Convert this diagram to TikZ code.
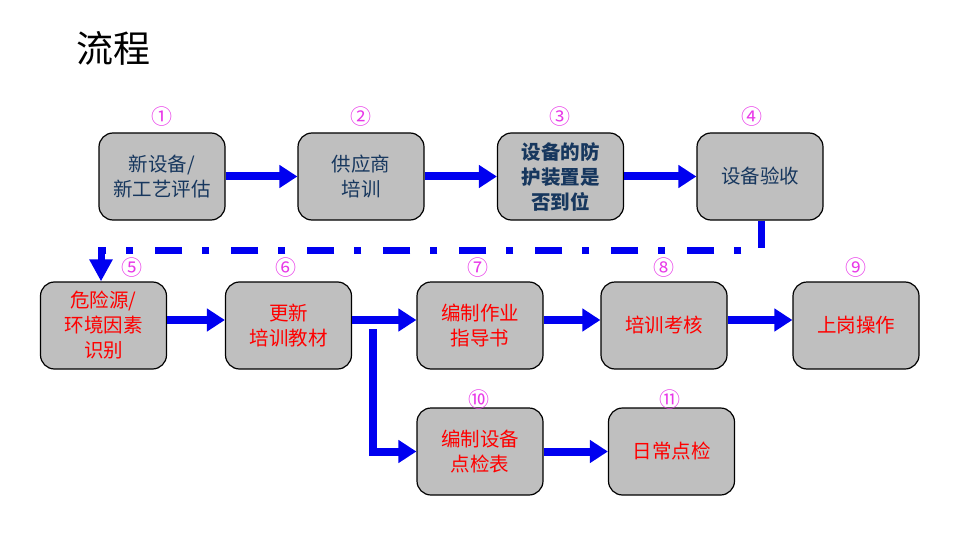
\documentclass[tikz,border=0pt]{standalone}
\usepackage{fontspec}
\setmainfont{Noto Sans CJK SC}
\usetikzlibrary{arrows.meta,positioning}
\definecolor{boxgray}{HTML}{BFBFBF}
\definecolor{toptext}{HTML}{17375E}
\definecolor{numcol}{HTML}{E838E8}
\definecolor{flowblue}{HTML}{0000F0}
\tikzset{
  stepbox/.style={draw=black, line width=1.2pt, fill=boxgray, rounded corners=14pt,
    minimum width=126pt, minimum height=87pt, align=center, inner sep=2pt,
    font=\fontsize{19.5pt}{25pt}\selectfont},
  toprow/.style={stepbox, text=toptext},
  redrow/.style={stepbox, text=red},
  numlbl/.style={text=numcol, font=\fontsize{21pt}{22pt}\selectfont, inner sep=0pt},
  flow/.style={draw=flowblue, line width=8pt, -{Triangle[length=18pt,width=22pt]}},
  flowline/.style={draw=flowblue, line width=8pt},
  dashflow/.style={draw=flowblue, line width=7pt, dash pattern=on 27pt off 22pt on 7pt off 20pt,
    -{Triangle[length=22pt,width=22pt]}}
}
\begin{document}
\begin{tikzpicture}[x=1pt,y=-1pt]
\useasboundingbox (0,0) rectangle (960,540);
\node[font=\fontsize{37pt}{42pt}\selectfont, anchor=west, inner sep=0pt] (title) at (76,48) {流程};

\node[toprow] (b1) at (162,176.5) {新设备/\\新工艺评估};
\node[toprow] (b2) at (361,176.5) {供应商\\培训};
\node[toprow, font=\fontsize{19.5pt}{25pt}\selectfont\bfseries] (b3) at (560.5,176.5) {设备的防\\护装置是\\否到位};
\node[toprow] (b4) at (760,176.5) {设备验收};

\node[redrow] (b5) at (103.5,325.5) {危险源/\\环境因素\\识别};
\node[redrow] (b6) at (288.5,325.5) {更新\\培训教材};
\node[redrow] (b7) at (480,325.5) {编制作业\\指导书};
\node[redrow] (b8) at (664,325.5) {培训考核};
\node[redrow] (b9) at (856,325.5) {上岗操作};
\node[redrow] (b10) at (480,451.5) {编制设备\\点检表};
\node[redrow] (b11) at (671.5,451.5) {日常点检};

\node[numlbl] (n1) at (162,117) {①};
\node[numlbl] (n2) at (361,117) {②};
\node[numlbl] (n3) at (560,117) {③};
\node[numlbl] (n4) at (752,117) {④};
\node[numlbl] (n5) at (132,268) {⑤};
\node[numlbl] (n6) at (286,268) {⑥};
\node[numlbl] (n7) at (478,268) {⑦};
\node[numlbl] (n8) at (664,268) {⑧};
\node[numlbl] (n9) at (856,268) {⑨};
\node[numlbl] (n10) at (479,400) {⑩};
\node[numlbl] (n11) at (670,400) {⑪};

\draw[flow] (b1.east) -- (b2.west);
\draw[flow] (b2.east) -- (b3.west);
\draw[flow] (b3.east) -- (b4.west);

\coordinate (d1) at (761,250);
\coordinate (d2) at (101,250);
\draw[dashflow, dash phase=0pt] (b4.south -| d1) -- (d1) -- (d2) -- (b5.north -| d2);

\draw[flow] ([yshift=5.5pt]b5.east) -- ([yshift=5.5pt]b6.west);
\draw[flow] ([yshift=5.5pt]b6.east) -- ([yshift=5.5pt]b7.west);
\draw[flow] ([yshift=5.5pt]b7.east) -- ([yshift=5.5pt]b8.west);
\draw[flow] ([yshift=5.5pt]b8.east) -- ([yshift=5.5pt]b9.west);

\coordinate (br) at (373,329);
\draw[flowline, -{Triangle[length=18pt,width=22pt]}] (br) -- (br |- b10.west) -- (b10.west);
\draw[flow] (b10.east) -- (b11.west);
\end{tikzpicture}
\end{document}
